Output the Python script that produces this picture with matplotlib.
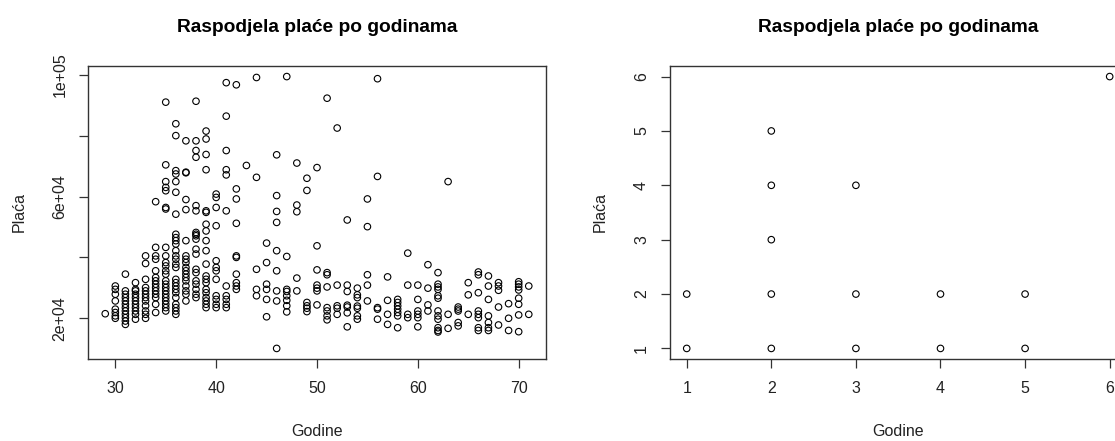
import matplotlib
matplotlib.use("Agg")
import matplotlib.pyplot as plt

plt.rcParams['font.family'] = ['Liberation Sans', 'DejaVu Sans']

# lijevi graf: godine i plaće (očitano sa slike)
godine = (
    [29]
    + [30] * 8
    + [31] * 12
    + [32] * 11
    + [33] * 12
    + [34] * 14
    + [35] * 23
    + [36] * 26
    + [37] * 18
    + [38] * 19
    + [39] * 20
    + [40] * 12
    + [41] * 11
    + [42] * 10
    + [43]
    + [44] * 5
    + [45] * 6
    + [46] * 9
    + [47] * 8
    + [48] * 5
    + [49] * 6
    + [50] * 7
    + [51] * 8
    + [52] * 5
    + [53] * 7
    + [54] * 7
    + [55] * 5
    + [56] * 5
    + [57] * 4
    + [58] * 7
    + [59] * 4
    + [60] * 6
    + [61] * 4
    + [62] * 12
    + [63] * 3
    + [64] * 5
    + [65] * 3
    + [66] * 8
    + [67] * 7
    + [68] * 5
    + [69] * 3
    + [70] * 8
    + [71] * 2
)

placa = [
    21500,
    30600, 29500, 27900, 25700, 23000, 21900, 20800, 20000,
    34500, 29000, 27900, 26800, 25700, 24600, 23500, 22400, 21300, 20200, 19100, 18000,
    31700, 29500, 29000, 27900, 26800, 25700, 24600, 23500, 22400, 21300, 19700,
    40500, 38000, 32800, 30100, 29000, 27900, 26800, 25700, 24100, 22400, 21300, 20000,
    58300, 43300, 40500, 39400, 35600, 33400, 32300, 31200, 30100, 29000, 27900, 26800, 24600, 21900,
    91000, 70400, 64900, 63000, 61900, 56400, 55900,
    43300, 40500, 38300, 37200, 35600, 34500, 32300, 31200, 30100, 29000, 27900, 26800, 25700,
    24600, 23500, 22400,
    83900, 80000, 68500, 67400, 64900, 61400, 54200,
    47600, 46500, 45500, 44400, 42200, 40500, 39400, 37800, 36700, 32800, 31700, 30600, 29500,
    28400, 26800, 24600, 23500, 22400, 21300,
    78300, 68000, 67800, 59000, 55700,
    45500, 40500, 39400, 38300, 36700, 35600, 34500, 33400, 32300, 30600, 29000, 27900, 25700,
    91300, 78300, 75100, 72900, 57000, 55300,
    48200, 47600, 47100, 46000, 42700, 41100, 36100, 35000, 32300, 31200, 29500, 27900, 26800,
    81500, 78900, 73800, 68800, 55300, 54800,
    50900, 48700, 45500, 42200, 37800, 33900, 32800, 31700, 29500, 28400, 26800, 25700, 24600, 23500,
    60800, 59700, 56400,
    50400, 38900, 36700, 35600, 32800, 27400, 26200, 24600, 23500,
    97400, 86400, 75100, 68800, 67100, 55300,
    30600, 27400, 26200, 24600, 23500,
    96700, 62500, 59200,
    51200, 40500, 40000, 34500, 31700, 30600, 29500,
    70200,
    99100, 66300, 36100, 29500, 27400,
    44700, 38300, 31200, 29500, 26200, 20500,
    73700, 60300, 55100, 51500, 42200, 35600, 29000, 25700, 10100,
    99400, 40300, 29500, 28800, 27400, 25900, 24100, 22100,
    71000, 57200, 55000, 33200, 29000,
    66000, 62000, 25200, 24100, 23300, 22200,
    69500, 43800, 35900, 30900, 29900, 29000, 24400,
    92300, 35000, 34300, 30300, 23500, 22400, 20800, 19500,
    82500, 30900, 24100, 23300, 21300,
    52300, 30900, 28800, 24300, 23700, 21800, 17200,
    29900, 27700, 26800, 24000, 23300, 20800, 19700,
    59200, 50100, 34300, 30900, 25700,
    98700, 66600, 23500, 23000, 19700,
    33600, 25900, 21300, 18000,
    26200, 25200, 24100, 23000, 21900, 20800, 16900,
    41400, 30900, 21300, 20200,
    30900, 26200, 22400, 21300, 20200, 17200,
    37600, 29900, 24400, 22400,
    35000, 31200, 30300, 29500, 27400, 26600, 22400, 20800, 19700, 16900, 16000, 15500,
    64900, 21300, 16700,
    23700, 23000, 22400, 18600, 17500,
    31700, 27700, 21300,
    35200, 34300, 28400, 22400, 21300, 20200, 16900, 16000,
    33900, 30600, 26200, 20800, 18600, 16900, 16000,
    31700, 30600, 29200, 23700, 17800,
    24800, 20000, 16000,
    32000, 31200, 30300, 29300, 26600, 24600, 21100, 15600,
    30600, 21300,
]

# desni graf
godine_2 = [1, 1, 2, 2, 2, 2, 2, 3, 3, 3, 4, 4, 5, 5, 6]
placa_2 = [1, 2, 1, 2, 3, 4, 5, 1, 2, 4, 1, 2, 1, 2, 6]

naslov = 'Raspodjela plaće po godinama'

W, H = 1115, 441
fig = plt.figure(figsize=(W / 100, H / 100), dpi=100)
top_px, bot_px = 65.7, 359.3
ax1 = fig.add_axes([88.3 / W, (H - bot_px) / H, 457.4 / W, (bot_px - top_px) / H])
ax2 = fig.add_axes([669.8 / W, (H - bot_px) / H, 456.8 / W, (bot_px - top_px) / H])


def r_lim(v):
    lo, hi = min(v), max(v)
    d = (hi - lo) * 0.04
    return lo - d, hi + d


def style(ax, xv, yv):
    ax.scatter(xv, yv, s=22, facecolors='none', edgecolors='black', linewidths=0.8, zorder=3)
    ax.set_xlim(*r_lim(xv))
    ax.set_ylim(*r_lim(yv))
    for s in ax.spines.values():
        s.set_color('#333333')
        s.set_linewidth(1.0)
    ax.tick_params(axis='both', direction='out', length=6.8, width=0.9, color='#333333',
                   labelsize=11.5, labelcolor='#222222')
    ax.tick_params(axis='x', pad=9.0)
    ax.tick_params(axis='y', pad=8.2)
    ax.set_title(naslov, fontsize=13.8, fontweight='bold', pad=24)
    ax.set_xlabel('Godine', fontsize=11.5, color='#222222')
    ax.set_ylabel('Plaća', fontsize=11.5, color='#222222')
    ax.xaxis.set_label_coords(0.5, -0.2466)
    ax.xaxis.label.set_va('center')
    ax.yaxis.set_label_coords(-0.1515, 0.5)
    ax.yaxis.label.set_va('center')
    ax.yaxis.label.set_ha('center')


style(ax1, godine, placa)
ax1.set_xticks([30, 40, 50, 60, 70])
ax1.set_yticks([20000, 40000, 60000, 80000, 100000])
ax1.set_yticklabels(['2e+04', '', '6e+04', '', '1e+05'])

style(ax2, godine_2, placa_2)
ax2.set_xticks([1, 2, 3, 4, 5, 6])
ax2.set_yticks([1, 2, 3, 4, 5, 6])

for ax in (ax1, ax2):
    for lab in ax.get_yticklabels():
        lab.set_rotation(90)
        lab.set_va('center')

fig.savefig('out.png', dpi=100)
